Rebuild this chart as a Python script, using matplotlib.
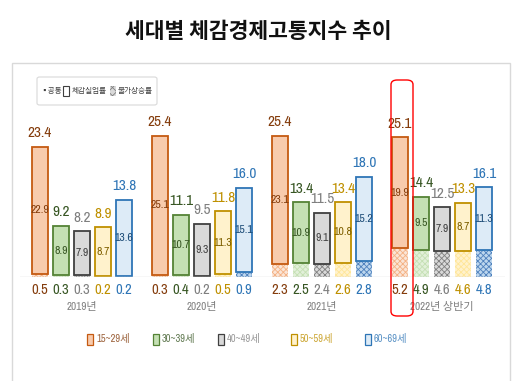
import matplotlib
matplotlib.use("Agg")
import matplotlib.pyplot as plt
from matplotlib.patches import Rectangle, FancyBboxPatch
from matplotlib import font_manager as fm

_avail = set(f.name for f in fm.fontManager.ttflist)
_cands = ['Arial Narrow', 'Liberation Sans Narrow', 'Archivo Narrow', 'PT Sans Narrow',
          'Roboto Condensed', 'Open Sans Condensed', 'Fira Sans Condensed',
          'IBM Plex Sans Condensed', 'Encode Sans Condensed', 'Asap Condensed']
NARROW = next((c for c in _cands if c in _avail), 'Noto Sans CJK KR')

plt.rcParams['font.family'] = ['Noto Sans CJK KR', 'DejaVu Sans']
plt.rcParams['hatch.linewidth'] = 0.6

years = ["2019년", "2020년", "2021년", "2022년 상반기"]
ages = ["15~29세", "30~39세", "40~49세", "50~59세", "60~69세"]
totals = [
    [23.4, 9.2, 8.2, 8.9, 13.8],
    [25.4, 11.1, 9.5, 11.8, 16.0],
    [25.4, 13.4, 11.5, 13.4, 18.0],
    [25.1, 14.4, 12.5, 13.3, 16.1],
]
unemp = [
    [22.9, 8.9, 7.9, 8.7, 13.6],
    [25.1, 10.7, 9.3, 11.3, 15.1],
    [23.1, 10.9, 9.1, 10.8, 15.2],
    [19.9, 9.5, 7.9, 8.7, 11.3],
]
infl = [
    [0.5, 0.3, 0.3, 0.2, 0.2],
    [0.3, 0.4, 0.2, 0.5, 0.9],
    [2.3, 2.5, 2.4, 2.6, 2.8],
    [5.2, 4.9, 4.6, 4.6, 4.8],
]

fills = ["#F8CBAD", "#C5E0B4", "#D9D9D9", "#FFF2CC", "#DDEBF7"]
edges = ["#C55A11", "#548235", "#404040", "#BF9000", "#2E75B6"]
hatchc = ["#F4B183", "#C5E0B4", "#808080", "#FFE699", "#4F81BD"]
hatchbg = ["#FBE5D6", "#E2F0D9", "#D9D9D9", "#FFF2CC", "#BDD7EE"]
tcols = ["#843C0C", "#375623", "#7F7F7F", "#BF9000", "#2E75B6"]
icols = ["#843C0C", "#375623", "#404040", "#7F6000", "#1F4E79"]

W, H = 525, 381
fig = plt.figure(figsize=(W / 100, H / 100), dpi=100)
fig.patch.set_facecolor("white")

fig.patches.append(Rectangle((12 / W, -0.05), (510 - 12) / W, 1.05 - 63 / H,
                             transform=fig.transFigure, fill=False,
                             edgecolor="#D9D9D9", lw=1.0))

fig.text(258 / W, 1 - 31 / H, "세대별 체감경제고통지수 추이", ha="center", va="center",
         fontsize=15.5, fontweight="bold", color="#111111")

ax = fig.add_axes([20 / W, 1 - 277 / H, 485 / W, 30 * 5.57 / H])
ax.set_xlim(-0.95, 22.14)
ax.set_ylim(0, 30)
ax.axis("off")
ax.axhline(0, color="#D9D9D9", lw=1.0)

gap = 120 / 21
bw = 0.76
nar = [NARROW, 'Noto Sans CJK KR']
for g in range(4):
    for i in range(5):
        x = g * gap + i
        ax.bar(x, infl[g][i], width=bw, color=hatchbg[i], hatch="xxxxxx",
               edgecolor=hatchc[i], lw=0)
        ax.bar(x, unemp[g][i], bottom=infl[g][i], width=bw, color=fills[i],
               edgecolor=edges[i], lw=1.3)
        ax.text(x, totals[g][i] + 1.2, f"{totals[g][i]:.1f}", ha="center", va="bottom",
                fontsize=11, color=tcols[i], family=nar)
        ax.text(x, infl[g][i] + unemp[g][i] / 2, f"{unemp[g][i]:.1f}", ha="center",
                va="center", fontsize=8.5, color=icols[i], family=nar)
        ax.text(x, -2.4, f"{infl[g][i]:.1f}", ha="center", va="center",
                fontsize=10.5, color=tcols[i], family=nar, clip_on=False)
    ax.text(g * gap + 2, -5.4, years[g], ha="center", va="center", fontsize=8,
            color="#7F7F7F", family=nar, clip_on=False)

fig.patches.append(FancyBboxPatch((391 / W, 1 - 316 / H), 22 / W, 236 / H,
                                  boxstyle="round,pad=0,rounding_size=0.012",
                                  transform=fig.transFigure, fill=False,
                                  edgecolor="#FF0000", lw=1.0))

fig.patches.append(FancyBboxPatch((37 / W, 1 - 105 / H), 120 / W, 28 / H,
                                  boxstyle="round,pad=0,rounding_size=0.005",
                                  transform=fig.transFigure, fill=True, facecolor="white",
                                  edgecolor="#D9D9D9", lw=0.8))
fig.text(40 / W, 1 - 91 / H, "▪공통", fontsize=5.5, va="center", color="#404040",
         family=['Noto Sans CJK KR', 'DejaVu Sans'])
fig.patches.append(Rectangle((63 / W, 1 - 96 / H), 6 / W, 10 / H, transform=fig.transFigure,
                             fill=False, edgecolor="#404040", lw=0.8))
fig.text(72 / W, 1 - 91 / H, "체감실업률", fontsize=5.5, va="center", color="#404040")
fig.patches.append(Rectangle((110 / W, 1 - 96 / H), 6 / W, 10 / H, transform=fig.transFigure,
                             facecolor="#D9D9D9", hatch="xxxx", edgecolor="#808080", lw=0))
fig.text(118 / W, 1 - 91 / H, "물가상승률", fontsize=5.5, va="center", color="#404040")

lx = [87, 153, 218, 291, 365]
for i in range(5):
    fig.patches.append(Rectangle((lx[i] / W, 1 - 345 / H), 6 / W, 11 / H,
                                 transform=fig.transFigure, facecolor=fills[i],
                                 edgecolor=edges[i], lw=0.9))
    fig.text((lx[i] + 9) / W, 1 - 339 / H, ages[i], fontsize=7.5, va="center",
             color=tcols[i], alpha=0.8, family=nar)

fig.savefig("out.png", dpi=100)
